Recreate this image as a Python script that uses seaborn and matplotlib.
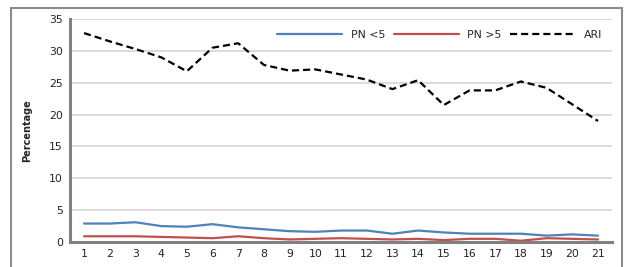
import matplotlib
matplotlib.use("Agg")
import matplotlib.pyplot as plt
import seaborn as sns
import pandas as pd
from matplotlib.patches import Rectangle

weeks = list(range(1, 22))
pn_under5 = [2.9, 2.9, 3.1, 2.5, 2.4, 2.8, 2.3, 2.0, 1.7, 1.6, 1.8, 1.8, 1.3, 1.8, 1.5, 1.3, 1.3, 1.3, 1.0, 1.2, 1.0]
pn_over5 = [0.9, 0.9, 0.9, 0.8, 0.7, 0.6, 0.9, 0.6, 0.4, 0.5, 0.6, 0.5, 0.4, 0.5, 0.3, 0.5, 0.5, 0.2, 0.6, 0.5, 0.4]
ari = [32.8, 31.5, 30.3, 29.0, 26.8, 30.5, 31.2, 27.8, 26.9, 27.1, 26.3, 25.5, 24.0, 25.4, 21.5, 23.8, 23.8, 25.2, 24.2, 21.6, 19.0]
series_names = ["PN <5", "PN >5", "ARI"]
y_ticks = [0, 5, 10, 15, 20, 25, 30, 35]

df = pd.DataFrame({"week": weeks * 3,
                   "value": pn_under5 + pn_over5 + ari,
                   "series": [series_names[0]] * 21 + [series_names[1]] * 21 + [series_names[2]] * 21})

sns.set_theme(style="white")
plt.rcParams['font.family'] = ['DejaVu Sans']

fig = plt.figure(figsize=(6.24, 2.67), dpi=100)
ax = fig.add_axes([0.112, 0.0936, 0.869, 0.835])

palette = {"PN <5": "#4F81BD", "PN >5": "#C0504D", "ARI": "#000000"}
sns.lineplot(data=df, x="week", y="value", hue="series", style="series",
             palette=palette, dashes={"PN <5": "", "PN >5": "", "ARI": (3.2, 1.8)},
             linewidth=1.6, ax=ax, legend=True)

ax.set_xlim(0.45, 21.55)
ax.set_ylim(0, 35)
ax.set_xticks(weeks)
ax.set_xticklabels([str(w) for w in weeks], fontsize=7.8, color="#222222")
ax.set_yticks(y_ticks)
ax.set_yticklabels([str(t) for t in y_ticks], fontsize=7.8, color="#222222")
ax.tick_params(axis="both", length=0, pad=5)
ax.set_xlabel("")
ax.set_ylabel("Percentage", fontsize=7, fontweight="bold", labelpad=12)
ax.yaxis.grid(True, color="#D9D9D9", linewidth=1.3)
ax.set_axisbelow(True)
for s in ["top", "right"]:
    ax.spines[s].set_visible(False)
for s in ["left", "bottom"]:
    ax.spines[s].set_color("#808080")
    ax.spines[s].set_linewidth(2.2)

handles, labels = ax.get_legend_handles_labels()
leg = ax.legend(handles, labels, loc="center right", bbox_to_anchor=(1.0, 0.93),
                ncol=3, frameon=False, fontsize=7.8, handlelength=6.0,
                handletextpad=0.8, columnspacing=0.8)
for h in leg.get_lines():
    h.set_linewidth(1.6)

fig.patches.append(Rectangle((10.5 / 624, -0.05), 611 / 624, 1 - 7.5 / 267 + 0.05,
                             transform=fig.transFigure, fill=False,
                             edgecolor="#8C8C8C", linewidth=1.5))

fig.savefig("out.png", dpi=100)
